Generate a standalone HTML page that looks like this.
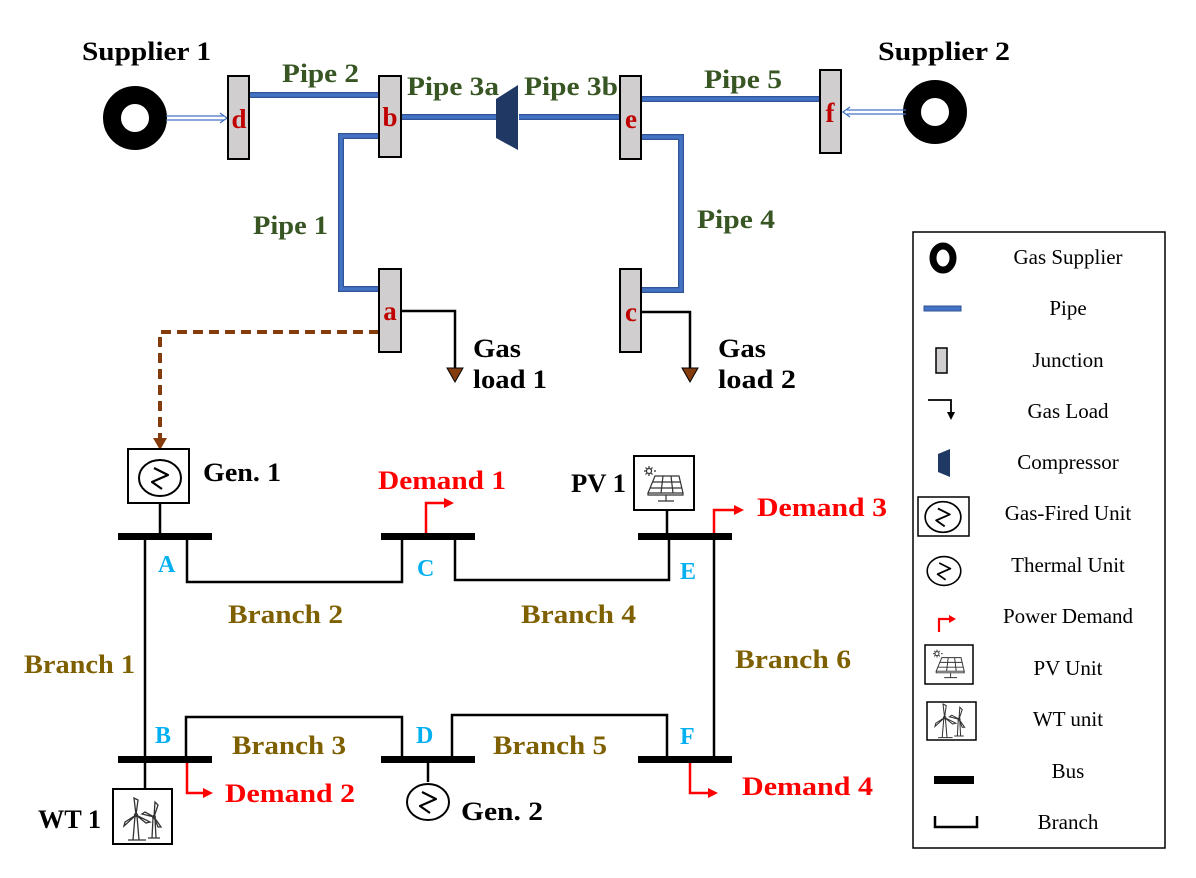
<!DOCTYPE html>
<html><head><meta charset="utf-8"><style>
html,body{margin:0;padding:0;background:#fff;}
svg{display:block;}
text{font-family:"Liberation Serif",serif;}
</style></head><body>
<svg width="1196" height="878" viewBox="0 0 1196 878" xmlns="http://www.w3.org/2000/svg">
<defs>
<g id="gen"><ellipse cx="0" cy="0" rx="21" ry="18" fill="#fff" stroke="#000" stroke-width="2"/><path d="M -6 -10 L 8 -3 L -8 4 L 2 11" fill="none" stroke="#000" stroke-width="2.2" stroke-linejoin="round"/></g>
<g id="pv"><g stroke="#333" stroke-width="1.2" fill="none"><circle cx="-15" cy="-13" r="2.5"/><path d="M-15 -18v2M-15 -8v-2M-20 -13h2M-10 -13h2M-18.5 -16.5l1.3 1.3M-11.5 -9.5l-1.3-1.3M-18.5 -9.5l1.3-1.3M-11.5 -16.5l-1.3 1.3"/><path d="M-9 -8 L15 -8 L19 9 L-16 9 Z M-16 9 L19 9 L19 11 L-16 11 Z M-12 -2 L17 -2 M-14 4 L18 4 M-1 -8 L-3 9 M7 -8 L9 9 M2 11 L2 17 M-6 17 L10 17"/></g></g>
<g id="wt"><g stroke="#333" stroke-width="1.3" fill="none"><path d="M-9 -2 L-11 22 M-7 -2 L-5 22 M-16 22 L2 22"/><path d="M-8 -3 L-10 -20 L-6 -18 Z M-8 -3 L-20 8 L-19 4 Z M-8 -3 L6 4 L2 5 Z"/><circle cx="-8" cy="-3" r="1.5"/><path d="M9 0 L8 20 M11 0 L12 20 M4 20 L16 20"/><path d="M10 -1 L11 -16 L14 -13 Z M10 -1 L-2 -4 L1 -6 Z M10 -1 L17 9 L14 9 Z"/><circle cx="10" cy="-1" r="1.3"/></g></g>
</defs>

<!-- Gas network -->
<circle cx="135" cy="118" r="23" fill="none" stroke="#000" stroke-width="18"/>
<circle cx="935" cy="112" r="23" fill="none" stroke="#000" stroke-width="18"/>
<g font-size="26" font-weight="bold" lengthAdjust="spacingAndGlyphs">
<text x="82" y="60" textLength="129" lengthAdjust="spacingAndGlyphs">Supplier 1</text>
<text x="878" y="60" textLength="132" lengthAdjust="spacingAndGlyphs">Supplier 2</text>
</g>

<g stroke="#4472c4" stroke-width="1.3" fill="none">
<path d="M166 116 H224 M166 120 H224"/><path d="M220 113 L227 118 L220 123"/>
<path d="M906 110 H847 M906 114 H847"/><path d="M850 107 L843 112 L850 117"/>
</g>

<g fill="none" stroke="#2f5597" stroke-width="6">
<path d="M249 95 H379"/><path d="M401 117 H497"/><path d="M519 117 H620"/><path d="M641 99 H820"/>
<path d="M379 136 H341 V289 H379"/><path d="M641 137 H681 V290 H641"/>
</g>
<g fill="none" stroke="#4472c4" stroke-width="3.5">
<path d="M249 95 H379"/><path d="M401 117 H497"/><path d="M519 117 H620"/><path d="M641 99 H820"/>
<path d="M379 136 H341 V289 H379"/><path d="M641 137 H681 V290 H641"/>
</g>
<polygon points="496,99 518,85 518,150 496,138" fill="#1f3864"/>

<path d="M401 311 H455 V370" fill="none" stroke="#000" stroke-width="2.5"/>
<polygon points="447,368 463,368 455,382" fill="#843c0c" stroke="#000" stroke-width="1"/>
<path d="M641 312 H690 V370" fill="none" stroke="#000" stroke-width="2.5"/>
<polygon points="682,368 698,368 690,382" fill="#843c0c" stroke="#000" stroke-width="1"/>

<path d="M379 332 H160 V440" fill="none" stroke="#843c0c" stroke-width="4" stroke-dasharray="10,6"/>
<polygon points="153,438 167,438 160,450" fill="#843c0c"/>

<g fill="#d0cece" stroke="#000" stroke-width="2">
<rect x="228" y="76" width="21" height="83"/><rect x="379" y="76" width="22" height="81"/>
<rect x="620" y="76" width="21" height="83"/><rect x="820" y="70" width="21" height="83"/>
<rect x="379" y="269" width="22" height="83"/><rect x="620" y="269" width="21" height="83"/>
</g>
<g fill="#c00000" font-size="27" text-anchor="middle" font-weight="bold">
<text x="239" y="128">d</text><text x="390" y="126">b</text><text x="631" y="128">e</text>
<text x="830" y="122">f</text><text x="390" y="320">a</text><text x="631" y="321">c</text>
</g>

<g fill="#375623" font-size="26" font-weight="bold">
<text x="282" y="82" textLength="77" lengthAdjust="spacingAndGlyphs">Pipe 2</text>
<text x="407" y="95" textLength="92" lengthAdjust="spacingAndGlyphs">Pipe 3a</text>
<text x="524" y="95" textLength="94" lengthAdjust="spacingAndGlyphs">Pipe 3b</text>
<text x="704" y="88" textLength="78" lengthAdjust="spacingAndGlyphs">Pipe 5</text>
<text x="253" y="234" textLength="75" lengthAdjust="spacingAndGlyphs">Pipe 1</text>
<text x="697" y="228" textLength="78" lengthAdjust="spacingAndGlyphs">Pipe 4</text>
</g>
<g font-size="26" font-weight="bold">
<text x="473" y="357" textLength="48" lengthAdjust="spacingAndGlyphs">Gas</text><text x="473" y="388" textLength="74" lengthAdjust="spacingAndGlyphs">load 1</text>
<text x="718" y="357" textLength="48" lengthAdjust="spacingAndGlyphs">Gas</text><text x="718" y="388" textLength="78" lengthAdjust="spacingAndGlyphs">load 2</text>
</g>

<g fill="none" stroke="#000" stroke-width="2.5">
<path d="M160 503 V536"/><path d="M145 536 V790"/>
<path d="M187 536 V582 H402 V536"/><path d="M455 536 V580 H669 V536"/>
<path d="M667 510 V536"/><path d="M714 536 V759"/>
<path d="M667 759 V715 H452 V759"/><path d="M402 759 V717 H186 V759"/>
<path d="M428 759 V782"/>
</g>
<g fill="#000">
<rect x="118" y="533" width="94" height="7"/><rect x="381" y="533" width="94" height="7"/>
<rect x="638" y="533" width="94" height="7"/><rect x="118" y="756" width="94" height="7"/>
<rect x="381" y="756" width="94" height="7"/><rect x="638" y="756" width="94" height="7"/>
</g>

<g fill="none" stroke="#ff0000" stroke-width="2.5">
<path d="M426 533 V503 H446"/><path d="M714 533 V510 H736"/>
<path d="M187 763 V793 H205"/><path d="M690 763 V793 H710"/>
</g>
<g fill="#ff0000">
<polygon points="444,498 454,503 444,508"/><polygon points="734,505 744,510 734,515"/>
<polygon points="203,788 213,793 203,798"/><polygon points="708,788 718,793 708,798"/>
</g>

<rect x="128" y="449" width="61" height="54" fill="#fff" stroke="#000" stroke-width="2"/>
<use href="#gen" x="160" y="478"/>
<use href="#gen" x="428" y="802"/>
<rect x="634" y="456" width="60" height="54" fill="#fff" stroke="#000" stroke-width="2"/>
<use href="#pv" x="664" y="484"/>
<rect x="113" y="789" width="59" height="55" fill="#fff" stroke="#000" stroke-width="2"/>
<use href="#wt" x="144" y="818"/>

<g font-size="26" font-weight="bold">
<text x="203" y="481" textLength="78" lengthAdjust="spacingAndGlyphs">Gen. 1</text>
<text x="461" y="820" textLength="82" lengthAdjust="spacingAndGlyphs">Gen. 2</text>
<text x="571" y="492" textLength="55" lengthAdjust="spacingAndGlyphs">PV 1</text>
<text x="38" y="828" textLength="63" lengthAdjust="spacingAndGlyphs">WT 1</text>
</g>
<g fill="#ff0000" font-size="26" font-weight="bold">
<text x="378" y="489" textLength="128" lengthAdjust="spacingAndGlyphs">Demand 1</text>
<text x="757" y="516" textLength="130" lengthAdjust="spacingAndGlyphs">Demand 3</text>
<text x="225" y="802" textLength="130" lengthAdjust="spacingAndGlyphs">Demand 2</text>
<text x="742" y="795" textLength="131" lengthAdjust="spacingAndGlyphs">Demand 4</text>
</g>
<g fill="#00b0f0" font-size="24" font-weight="bold">
<text x="158" y="572">A</text><text x="417" y="576">C</text><text x="680" y="579">E</text>
<text x="155" y="743">B</text><text x="416" y="743">D</text><text x="680" y="744">F</text>
</g>
<g fill="#7f6000" font-size="26" font-weight="bold">
<text x="228" y="623" textLength="115" lengthAdjust="spacingAndGlyphs">Branch 2</text>
<text x="521" y="623" textLength="115" lengthAdjust="spacingAndGlyphs">Branch 4</text>
<text x="24" y="673" textLength="111" lengthAdjust="spacingAndGlyphs">Branch 1</text>
<text x="735" y="668" textLength="116" lengthAdjust="spacingAndGlyphs">Branch 6</text>
<text x="232" y="754" textLength="114" lengthAdjust="spacingAndGlyphs">Branch 3</text>
<text x="493" y="754" textLength="114" lengthAdjust="spacingAndGlyphs">Branch 5</text>
</g>

<rect x="913" y="232" width="252" height="616" fill="#fff" stroke="#000" stroke-width="1.5"/>
<g font-size="21" text-anchor="middle">
<text x="1068" y="264">Gas Supplier</text>
<text x="1068" y="315">Pipe</text>
<text x="1068" y="367">Junction</text>
<text x="1068" y="418">Gas Load</text>
<text x="1068" y="469">Compressor</text>
<text x="1068" y="520">Gas-Fired Unit</text>
<text x="1068" y="572">Thermal Unit</text>
<text x="1068" y="623">Power Demand</text>
<text x="1068" y="675">PV Unit</text>
<text x="1068" y="726">WT unit</text>
<text x="1068" y="778">Bus</text>
<text x="1068" y="829">Branch</text>
</g>
<ellipse cx="943" cy="258" rx="10" ry="12" fill="none" stroke="#000" stroke-width="7"/>
<rect x="924" y="306" width="37" height="5" fill="#4472c4" stroke="#2f5597" stroke-width="1"/>
<rect x="936" y="348" width="11" height="25" fill="#d0cece" stroke="#000" stroke-width="1.5"/>
<path d="M928 400 H951 V413" fill="none" stroke="#000" stroke-width="1.8"/>
<polygon points="947,412 955,412 951,420" fill="#000"/>
<polygon points="938,454 950,449 950,477 938,472" fill="#1f3864"/>
<rect x="918" y="497" width="51" height="39" fill="#fff" stroke="#000" stroke-width="1.5"/>
<g transform="translate(943,517) scale(0.85)"><use href="#gen"/></g>
<g transform="translate(944,571) scale(0.8)"><use href="#gen"/></g>
<path d="M939 632 V619 H950" fill="none" stroke="#ff0000" stroke-width="2.2"/>
<polygon points="949,615 956,619 949,623" fill="#ff0000"/>
<rect x="925" y="645" width="48" height="39" fill="#fff" stroke="#000" stroke-width="1.5"/>
<g transform="translate(949,664) scale(0.8)"><use href="#pv"/></g>
<rect x="927" y="702" width="49" height="38" fill="#fff" stroke="#000" stroke-width="1.5"/>
<g transform="translate(951,720) scale(0.8)"><use href="#wt"/></g>
<rect x="934" y="776" width="40" height="8" fill="#000"/>
<path d="M935 816 V827 H977 V816" fill="none" stroke="#000" stroke-width="2.5"/>
</svg>
</body></html>
